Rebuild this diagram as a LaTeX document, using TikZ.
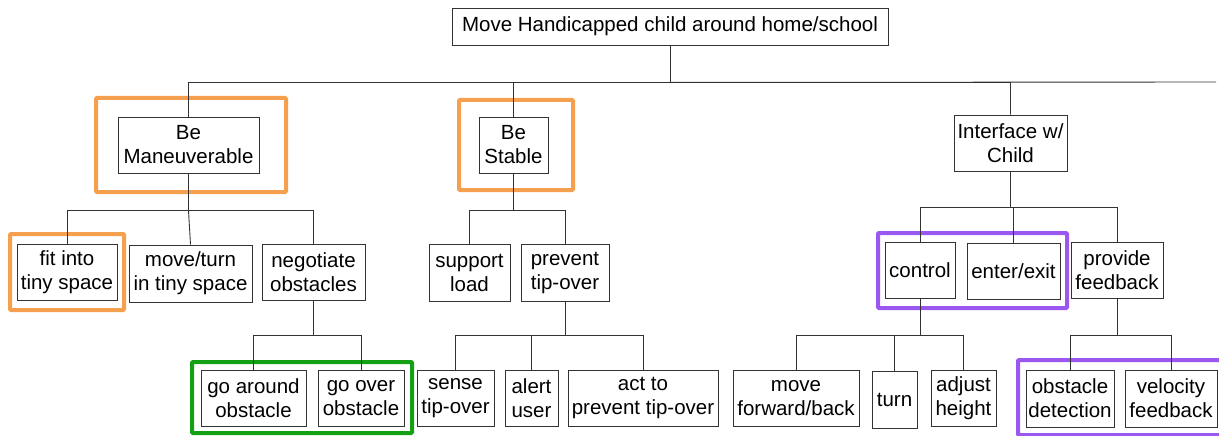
\documentclass[tikz,border=0pt]{standalone}
\usepackage{fontspec}
\setmainfont{Liberation Sans}
\usepackage{tikz}
\definecolor{hlorange}{RGB}{245,160,78}
\definecolor{hlgreen}{RGB}{20,160,20}
\definecolor{hlpurple}{RGB}{155,88,240}
\tikzset{
  box/.style={draw=black!80, line width=0.9pt, align=center, inner sep=0pt,
    font=\fontsize{20.5}{24}\selectfont},
  link/.style={draw=black!80, line width=0.9pt},
  mark orange/.style={draw=hlorange, line width=4pt, rounded corners=1pt},
  mark green/.style={draw=hlgreen, line width=4pt, rounded corners=1pt},
  mark purple/.style={draw=hlpurple, line width=4pt, rounded corners=1pt}
}

\begin{document}
\begin{tikzpicture}[x=1pt,y=-1pt]
			\useasboundingbox[fill=white] (0,0) rectangle (1219,436);
			% highlight frames
			\draw[mark orange] (96,98) rectangle (286,192);
			\draw[mark orange] (459,100) rectangle (573,190);
			\draw[mark orange] (10,234) rectangle (124,310);
			\draw[mark green] (192,362) rectangle (412,433);
			\draw[mark purple] (878,233) rectangle (1067,308);
			\draw[mark purple] (1018,360) rectangle (1230,435);
			% boxes
			\node[box, minimum width=436, minimum height=37] (top) at (670,26.5) {Move Handicapped child around home/school};
			\node[box, minimum width=141, minimum height=56] (manv) at (188.5,145) {Be\\Maneuverable};
			\node[box, minimum width=69, minimum height=56] (stable) at (513.5,145) {Be\\Stable};
			\node[box, minimum width=113, minimum height=56] (iface) at (1010.5,143) {Interface w/\\Child};
			\node[box, minimum width=100, minimum height=56] (fit) at (67,272) {fit into\\tiny space};
			\node[box, minimum width=123, minimum height=57] (moveturn) at (190.5,273.5) {move/turn\\in tiny space};
			\node[box, minimum width=103, minimum height=56] (negot) at (313.5,272) {negotiate\\obstacles};
			\node[box, minimum width=105, minimum height=56] (around) at (253.5,398) {go around\\obstacle};
			\node[box, minimum width=86, minimum height=56] (over) at (361,398) {go over\\obstacle};
			\node[box, minimum width=81, minimum height=57] (support) at (469.5,272.5) {support\\load};
			\node[box, minimum width=88, minimum height=57] (prevent) at (565,272.5) {prevent\\tip-over};
			\node[box, minimum width=77, minimum height=56] (sense) at (455.5,398) {sense\\tip-over};
			\node[box, minimum width=53, minimum height=56] (alert) at (531.5,398) {alert\\user};
			\node[box, minimum width=150, minimum height=56] (act) at (643,398) {act to\\prevent tip-over};
			\node[box, minimum width=70, minimum height=56] (control) at (920,270) {control};
			\node[box, minimum width=93, minimum height=56] (enter) at (1013.5,271) {enter/exit};
			\node[box, minimum width=92, minimum height=56] (feedback) at (1117,270) {provide\\feedback};
			\node[box, minimum width=126, minimum height=56] (fwd) at (796,398) {move\\forward/back};
			\node[box, minimum width=45, minimum height=57] (turn) at (894.5,399.5) {turn};
			\node[box, minimum width=65, minimum height=56] (height) at (963.5,398) {adjust\\height};
			\node[box, minimum width=88, minimum height=57] (detect) at (1070,398.5) {obstacle\\detection};
			\node[box, minimum width=92, minimum height=57] (velocity) at (1171,398.5) {velocity\\feedback};
			% connectors
			\coordinate (topend) at (1216,82);
			\draw[link] (top.south) -- ++(0,37) coordinate (tb);
			\draw[link] (manv.north) |- (tb);
			\draw[link] (stable.north) |- (tb);
			\draw[link] (iface.north) |- (tb) -- (topend);
			\draw[link] (manv.south) -- ++(0,37) coordinate (mb);
			\draw[link] (fit.north) |- (mb);
			\draw[link] (moveturn.north) -- (mb);
			\draw[link] (negot.north) |- (mb);
			\draw[link] (negot.south) -- ++(0,35) coordinate (nb);
			\draw[link] (around.north) |- (nb);
			\draw[link] (over.north) |- (nb);
			\draw[link] (stable.south) -- ++(0,37) coordinate (sb);
			\draw[link] (support.north) |- (sb);
			\draw[link] (prevent.north) |- (sb);
			\draw[link] (prevent.south) -- ++(0,34) coordinate (pb);
			\draw[link] (sense.north) |- (pb);
			\draw[link] (alert.north) |- (pb);
			\draw[link] (act.north) |- (pb);
			\draw[link] (iface.south) -- ++(0,36) coordinate (ib);
			\draw[link] (control.north) |- (ib);
			\draw[link] (enter.north) |- (ib);
			\draw[link] (feedback.north) |- (ib);
			\draw[link] (control.south) -- ++(0,37) coordinate (cb);
			\draw[link] (fwd.north) |- (cb);
			\draw[link] (turn.north) |- (cb);
			\draw[link] (height.north) |- (cb);
			\draw[link] (feedback.south) -- ++(0,37) coordinate (fb);
			\draw[link] (detect.north) |- (fb);
			\draw[link] (velocity.north) |- (fb);
\end{tikzpicture}
\end{document}
